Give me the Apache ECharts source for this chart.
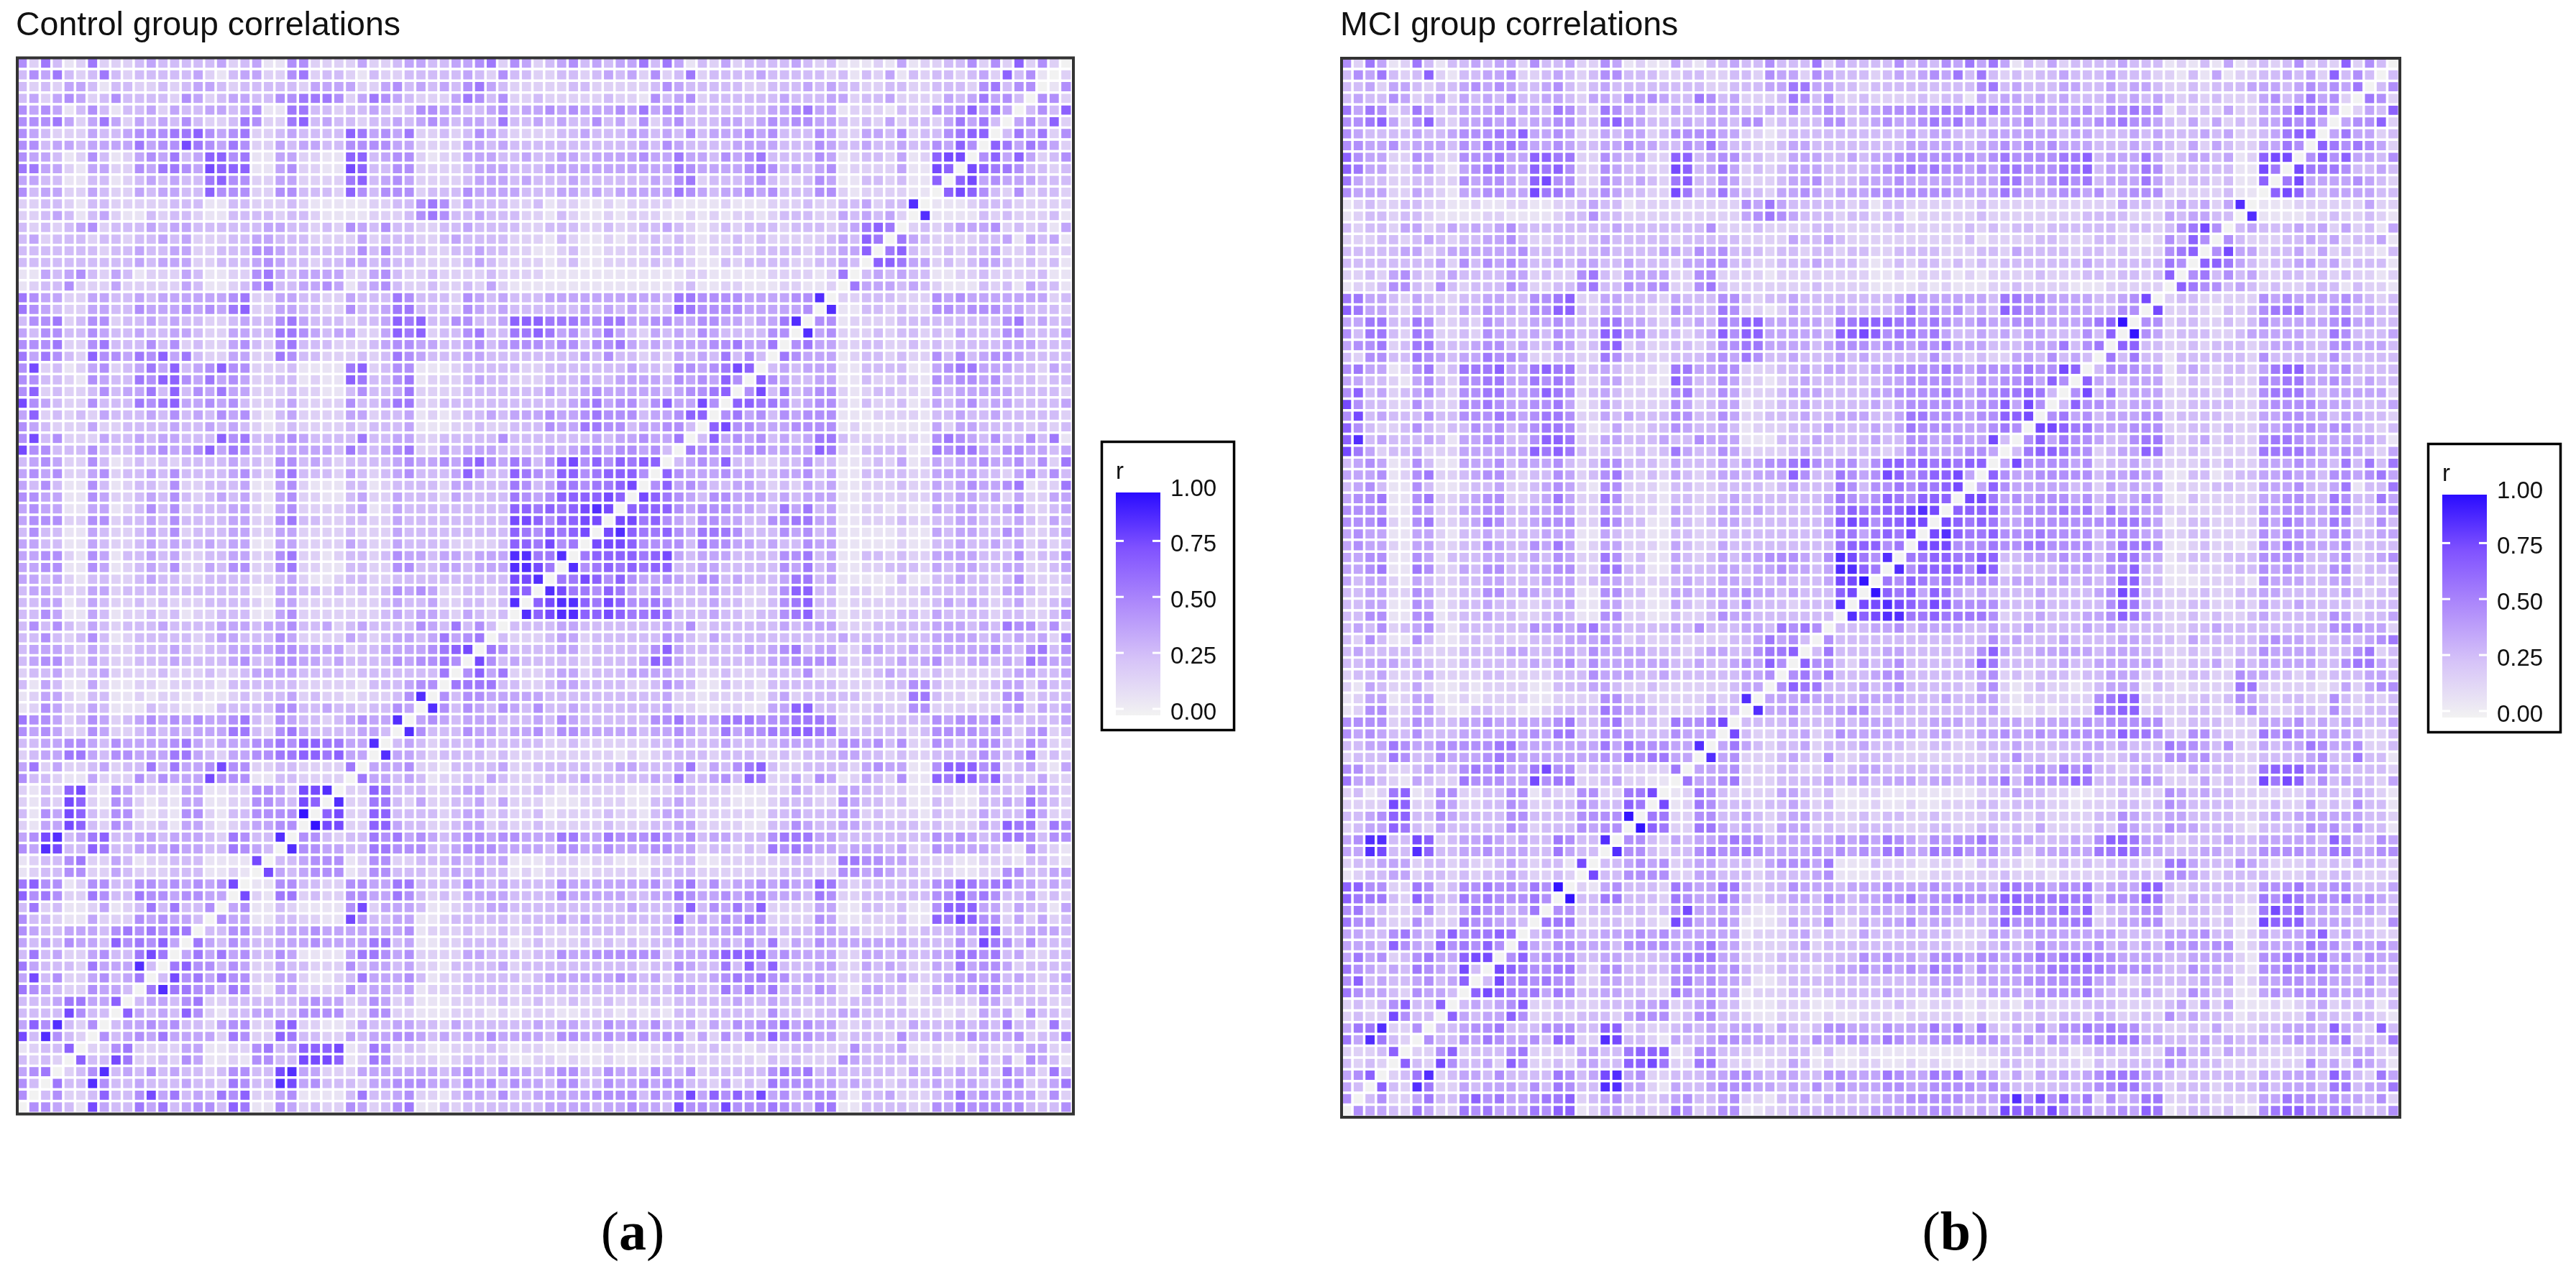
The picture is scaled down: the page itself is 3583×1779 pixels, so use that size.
<!DOCTYPE html>
<html><head><meta charset="utf-8">
<style>html,body{margin:0;padding:0;background:#fff}#c{width:3583px;height:1779px}</style>
<script src="https://cdn.jsdelivr.net/npm/echarts@6/dist/echarts.min.js"></script>
</head><body><div id="c"></div>
<script>
// Each row holds tenths of r (x = 0.97) for the cells left of the anti-diagonal; the matrix is symmetric.
const controlRows = [
"52631 26222 34333 33423 41155 22224 22344 33445 62542 34534 34463 64132 42333 34323 11121 41223 35252 7252",
"35463 23632 33333 42134 42256 23321 32233 33343 25332 23323 43425 23623 33343 33332 31324 13233 23427 351",
"32324 43133 22323 44323 33332 44442 24534 34356 43222 22332 22223 54333 33223 33434 33223 32233 32563 55",
"34245 42353 33325 42344 33556 66524 65432 22465 35223 22222 32215 34523 33333 43334 42334 22224 34645 3",
"54541 35313 34243 34434 51166 33233 43235 54433 45344 54544 45464 55333 33334 45644 12221 32254 57464",
"55564 24642 43435 32236 52267 34332 33434 54344 36334 34335 34252 45333 44345 45544 32324 23324 6463",
"54322 24334 55566 75456 22343 33376 45462 23235 43222 23343 33443 43534 44545 33354 22443 52335 677",
"55344 34444 64558 65465 22434 43355 55442 22244 34333 33333 33343 54333 34444 33354 33433 43354 75",
"54431 25312 45463 47756 11442 21177 34552 12244 43343 34434 44454 46443 54563 33354 12332 41278 8",
"66442 14422 54665 48777 11452 21187 33552 22234 44333 44444 44444 46544 44565 34345 12222 41187",
"44331 13312 34343 36755 22442 22267 34542 22234 44343 33433 33334 35623 33453 22354 11332 3117",
"53442 24322 43443 37555 22553 33275 35552 33354 44433 34434 34444 46543 44545 33355 21222 211",
"22332 13322 22233 31133 22232 11111 22335 65243 33223 12211 21222 21111 21112 22322 33423 39",
"22343 13421 13233 21133 33233 21111 22235 65334 33322 13211 21222 11212 12212 33322 43434 2",
"32323 45233 34344 33333 34433 23254 35332 23343 33322 33322 32233 43212 32333 23332 34676",
"34233 32332 33434 22233 44333 22224 23332 23433 33222 13211 21223 23212 23232 22223 4376",
"33333 33233 43344 22333 55433 33335 35333 22334 33221 12311 22223 33212 23233 33233 447",
"33333 33333 43444 22333 45433 23344 34332 22234 32222 12311 22223 23211 32333 32233 43",
"11434 53243 12224 31122 56434 44422 45322 32222 32222 11111 11111 11221 11112 22212 6",
"12335 22242 22224 31123 56334 45413 45322 32232 42111 11111 11111 12311 22111 22112",
"65442 24433 43444 44456 22443 32243 33653 33254 34333 44444 44444 36655 55444 4559",
"65432 24433 54445 45467 22443 32253 34663 33254 34333 33343 43433 37655 55444 445",
"35562 35523 34343 32234 33564 33323 34767 33553 34777 66655 66445 54455 44344 69",
"43553 35433 43344 32244 33665 43442 24767 23356 33667 64534 64324 34354 33335 5",
"55562 25633 35352 32245 32563 33222 34554 43345 34555 45535 56434 34445 56446",
"64653 27554 65746 32244 22653 32223 23654 33344 33333 33343 53323 24343 6353",
"58231 24523 46473 45755 22231 11167 23551 11233 33322 33333 33433 25545 687",
"55332 15433 65775 46454 22331 21176 33561 22234 33222 33343 34444 35454 75",
"57232 23534 46373 54644 22232 21135 33462 22233 33333 43345 44444 34556 7",
"85432 25333 65674 45453 22342 22253 34662 23333 33333 33456 45535 74485",
"47232 32433 34353 43545 21342 22244 23341 21233 43444 54456 55534 4577",
"54322 24223 33343 34343 21232 22232 33341 11223 22333 54466 55344 553",
"58352 22433 43443 33756 33454 33336 33442 23333 35333 33334 34454 46",
"85533 35333 44544 57465 33444 44364 34562 24344 43333 43455 45545 3",
"34542 25312 32323 33343 32553 43233 33454 45467 54653 57857 57677",
"45452 24523 34353 33345 32563 33243 23453 33475 33765 47756 7775",
"43531 15312 33252 23334 11452 11133 12333 32443 33653 46656 678",
"55441 15422 34353 23434 21452 21134 22433 32433 33654 57777 87",
"45441 14412 35352 33344 21452 22234 12433 33333 33776 76789 8",
"45552 25523 34353 33344 22563 32233 22433 33333 33887 57788",
"35331 14322 34352 33344 22442 22232 22433 33333 33765 7678",
"44331 14322 34343 34344 11442 22243 22433 33222 23776 856",
"44552 15413 34342 23344 22562 21233 23544 34434 44996 69",
"44551 15412 34352 24355 22562 21133 22553 34434 44998 6",
"44342 13322 34332 23333 22342 11233 22333 33333 33889",
"34432 24423 33333 33333 11443 32323 23545 42233 2377",
"33441 24322 32322 23333 21442 22222 23433 42233 239",
"33541 14312 23231 22333 11452 22222 23434 43243 23",
"35353 24323 33433 33444 34453 34234 33335 43635 3",
"33532 35312 33333 23443 33542 22243 23443 46456",
"34443 24322 33343 23344 44554 44423 34444 5678",
"34553 24322 33343 33345 33554 43433 33545 565",
"23342 23422 22322 23223 44443 33323 33333 36",
"31431 14211 22122 22133 33332 22221 33345 5",
"12442 13311 21221 21123 23342 32212 22359",
"12542 24311 13221 11333 33553 34332 3354",
"65542 35423 45454 54456 32543 32345 449",
"54542 25422 34343 44466 32564 33334 43",
"33445 54354 44456 43444 55657 76644 9",
"23446 64355 44466 43244 55667 76744",
"46242 23423 36364 45855 22332 2226",
"53321 14222 53544 48555 11332 222",
"21327 82154 22214 41122 55428 89",
"21328 72154 21214 41122 55438 7",
"31548 73255 21215 52133 5555x",
"21448 73254 22314 42123 4455",
"45893 46733 44344 43265 339",
"54983 37633 44454 43365 43",
"12335 62243 12233 31111 8",
"12335 52243 22233 31121",
"67551 25533 55454 5458",
"75652 26533 65545 544",
"36231 12412 36363 35",
"53321 14222 54544 3",
"54334 44356 56566",
"43435 44375 6574",
"36342 24533 686",
"64333 26444 93",
"48352 24534 6",
"65432 25443",
"33346 6447",
"33338 533",
"47593 25",
"83953 2",
"12337",
"3232",
"456",
"53",
"5"
];
const mciRows = [
"52641 26313 34344 25334 22541 21142 13343 35333 62433 33534 35464 64132 42333 34333 12131 41232 35232 7253",
"35463 23721 33445 22343 23553 33223 32233 25442 54333 23434 54636 32323 34333 43332 21314 12233 43427 353",
"33424 43233 45454 33453 23433 33333 32233 34466 44332 33333 33335 63433 34433 43443 22323 33444 34545 46",
"34335 42342 43435 33443 24435 45433 65342 22365 35223 22223 23314 34434 34333 43434 32323 22245 34645 2",
"64652 36423 44453 44365 32653 42243 34443 34353 45434 45555 56565 65454 44453 55655 13232 42244 57564",
"55674 25732 44545 34455 33675 43334 34435 52333 35533 45445 65645 34453 44545 56554 32424 23244 6564",
"54333 34334 55565 74454 22434 42355 55442 21233 33333 33343 44333 44444 43443 33434 33343 42234 677",
"55445 34443 54656 54454 33445 44335 46433 22344 33333 33344 44434 45454 54443 33434 32424 32244 65",
"75442 25422 55564 47766 22543 42277 34553 32244 43343 44555 55554 56555 56673 44464 23443 41278 8",
"76442 24421 45664 47675 22543 32287 34642 32344 43333 45565 65545 46655 56673 44465 23333 31186",
"64332 23322 54554 37855 22543 43267 33542 22344 53334 44544 44444 46644 56563 44464 32332 3117",
"54442 24321 44554 48665 33543 32286 34643 32445 43444 55555 55444 46544 45545 34555 22222 311",
"12322 33221 12112 21122 34331 22222 22225 46433 33323 13322 22223 22222 22222 24332 34342 49",
"12332 33211 11221 11123 35332 22222 22224 56543 33233 23312 22223 22222 22233 33222 43443 3",
"32332 44234 34345 33333 33343 33333 35222 32222 33222 22322 22232 32332 33333 32332 35685",
"22233 23432 33445 32233 23433 33323 33332 22243 34322 22222 22231 22223 32223 32212 5375",
"33333 44234 44444 53333 33433 33443 54533 32332 33233 22333 32223 32433 33233 23222 567",
"33333 33342 53545 43343 44334 33324 45533 22333 43332 12323 32323 23333 33343 33333 65",
"22324 53234 33334 42322 56324 44422 55222 21222 22222 11212 22121 22223 22233 23323 7",
"12235 53253 23335 42233 56335 45522 56322 22222 32222 11112 12111 22322 22111 22222",
"66443 24322 33443 35567 22443 33243 33553 23343 33333 33454 44444 36655 44443 3458",
"76443 24332 43544 35577 32443 32254 33652 21243 33433 33464 54534 37655 44443 355",
"44663 36522 32543 34454 33664 43243 43657 74444 43667 77665 65445 44554 44456 7x",
"53663 26522 32544 34354 33775 53332 34757 74444 43778 75665 64334 34344 33353 7",
"45562 36633 34553 43354 23672 32233 23556 64444 34555 45545 56444 33344 46356",
"32553 36543 44655 42233 22653 32233 34546 53343 33434 33333 53323 22443 5343",
"56441 25623 66674 46766 23432 22166 44552 22334 34433 44555 56545 55565 587",
"44332 14532 55664 46565 22442 21175 33542 21234 33333 34455 55435 45564 75",
"57342 34532 55664 45765 23432 22256 33542 22344 43333 44555 56545 56676",
"85332 25322 55654 45564 12432 22254 23441 22334 33333 43455 55545 57485",
"58343 33533 55565 45665 22434 33355 33542 23334 33444 33466 55545 5778",
"75322 35323 35453 45665 21242 23354 33431 22233 34333 43465 55444 565",
"79343 33431 44553 35776 22443 33433 54441 11333 43333 43355 44544 83",
"86423 34222 44444 47676 32332 32364 33542 22234 33233 32355 44455 4",
"34541 25311 44453 44453 23553 33243 33434 45567 54553 57767 67677",
"44451 25622 34553 23354 23563 23243 23443 44475 33654 58756 7784",
"34531 15311 23342 23454 21552 22133 22333 32343 33653 55656 678",
"45561 15622 34552 23464 22652 22133 22343 33333 34654 57657 77",
"55551 15422 44553 34454 22543 22143 23443 43333 34676 67789 8",
"55562 15622 34653 34555 22653 31143 23443 33333 34787 57788",
"45441 14421 33433 33444 11432 21133 22333 33333 34664 6768",
"45442 14422 33543 35464 12442 22143 22433 33333 33677 756",
"44551 15413 33443 34354 22652 31143 23434 45554 35986 59",
"44561 16522 43553 34455 22663 31143 33443 44544 34997 6",
"43442 14322 33443 33444 23443 22234 33443 43433 3488x",
"33442 25422 33553 44344 11553 31244 34445 44343 3378",
"33441 15412 33433 22334 11442 21143 23435 33323 339",
"33551 15512 33433 22343 11552 21132 23544 33333 33",
"34352 34521 33333 35454 56443 33343 53334 43656 5",
"32531 15311 23232 23334 44542 32232 22233 46453",
"34333 33222 33334 43344 35444 43332 34433 5667",
"33444 34322 33333 34345 35444 44433 43345 475",
"23342 23422 22332 22233 35444 33433 33334 45",
"21432 24211 21222 21133 34432 23222 22234 4",
"12441 24411 21222 21122 22553 32222 23239",
"12552 24421 13322 11233 33654 43222 2433",
"55552 35433 44544 44456 33563 33265 568",
"54543 35333 44444 45466 33554 33354 44",
"33446 54455 55566 44444 44646 55544 9",
"23336 53354 44565 44444 44546 56644",
"55332 23433 56564 46855 23332 2226",
"64432 14322 65554 48566 22342 211",
"23126 71255 22335 51322 55226 68",
"22228 72254 22335 42233 54337 6",
"33457 73354 33335 53333 5555x",
"23447 63243 33335 42333 5455",
"45993 38723 44543 43365 339",
"44983 39733 44544 43364 33",
"23344 42332 32234 32331 8",
"12334 42332 32334 32232",
"77552 26523 55655 465x",
"76663 27533 65655 565",
"56332 23522 46553 46",
"65532 25322 65544 3",
"44335 64357 56676",
"44437 54375 6575",
"46452 35644 788",
"65434 36543 83",
"57343 34534 7",
"65443 25443",
"23235 7337",
"23228 533",
"46692 25",
"64963 2",
"22237",
"3232",
"457",
"43",
"5"
];
const titles = ["Control group correlations", "MCI group correlations"];
const captions = ["a", "b"];
const legendName = "r";
const legendValues = [0, 0.25, 0.5, 0.75];
const legendLabels = ["0.00", "0.25", "0.50", "0.75", "1.00"];
const rampColors = ["#f2f2f2", "#d6c3f8", "#ae8afb", "#8052ff", "#2a0cff"];

const N = 90;
const cells = Array.from({length: N}, (_, i) => String(i + 1));
function build(rows) {
  const clean = rows.map(s => s.replace(/ /g, ""));
  clean.forEach((s, r) => { if (s.length !== N - 1 - r) console.warn("row", r, s.length); });
  const read = (r, c) => {
    const ch = (clean[r] || "")[c];
    if (ch === undefined) return 0.3;
    return ch === "x" ? 0.97 : Number(ch) / 10 - 0.02;
  };
  const out = [];
  for (let r = 0; r < N; r++) for (let c = 0; c < N; c++) {
    const s = r + c;
    const v = s === N - 1 ? 0 : (s < N - 1 ? read(r, c) : read(N - 1 - c, N - 1 - r));
    out.push([c, r, v]);
  }
  return out;
}
const panels = [
  {left: 23, top: 80, w: 1468, h: 1468, rows: controlRows, titleX: 22, frame: [24, 80.5, 1469, 1469], capX: 880, legX: 0, legY: 0},
  {left: 1865, top: 80, w: 1472, h: 1473, rows: mciRows, titleX: 1864, frame: [1866, 81, 1472, 1473], capX: 2720, legX: 1845, legY: 3}
];
const FONT = '"Liberation Sans", Arial, sans-serif';
const graphics = [];
panels.forEach((p, i) => {
  graphics.push({type: "text", z: 20, x: p.titleX, y: 60, style: {text: titles[i], font: '46.5px ' + FONT, fill: "#111", textVerticalAlign: "bottom", verticalAlign: "alphabetic"}});
  graphics.push({type: "rect", z: 20, shape: {x: p.frame[0], y: p.frame[1], width: p.frame[2], height: p.frame[3]}, style: {fill: "none", stroke: "#333", lineWidth: 4}});
  graphics.push({type: "text", z: 20, x: p.capX, y: 1718, style: {
    text: "{n|(}{b|" + captions[i] + "}{n|)}", align: "center", verticalAlign: "middle",
    rich: {n: {font: '76px "Liberation Serif", serif', fill: "#000"}, b: {font: 'bold 76px "Liberation Serif", serif', fill: "#000"}}
  }});
  const dx = p.legX, dy = p.legY;
  graphics.push({type: "rect", z: 20, shape: {x: 1532.5 + dx, y: 614.5 + dy, width: 184, height: 401}, style: {fill: "#fff", stroke: "#000", lineWidth: 3.5}});
  graphics.push({type: "text", z: 21, x: 1552 + dx, y: 657 + dy, style: {text: legendName, font: '33px ' + FONT, fill: "#111", verticalAlign: "middle"}});
  const barX = 1552 + dx, barW = 62, barTop = 685 + dy, barBot = 995 + dy;
  graphics.push({type: "rect", z: 21, shape: {x: barX, y: barTop, width: barW, height: barBot - barTop}, style: {
    fill: new echarts.graphic.LinearGradient(0, 1, 0, 0, rampColors.map((c, k) => ({offset: k / (rampColors.length - 1), color: c})))
  }});
  const y0 = 986 + dy, unit = 311.5;
  legendValues.forEach(v => {
    const y = y0 - v * unit;
    graphics.push({type: "rect", z: 22, shape: {x: barX, y: y - 1.5, width: 11, height: 3}, style: {fill: "#fff"}});
    graphics.push({type: "rect", z: 22, shape: {x: barX + barW - 11, y: y - 1.5, width: 11, height: 3}, style: {fill: "#fff"}});
  });
  legendLabels.forEach((t, k) => {
    graphics.push({type: "text", z: 22, x: 1628 + dx, y: y0 + 6 - (k / 4) * unit, style: {text: t, font: '33px ' + FONT, fill: "#111", verticalAlign: "middle"}});
  });
});

const chart = echarts.init(document.getElementById("c"), null, {renderer: "canvas"});
chart.setOption({
  animation: false,
  backgroundColor: "#fff",
  grid: panels.map(p => ({left: p.left, top: p.top, width: p.w, height: p.h, containLabel: false})),
  xAxis: panels.map((p, i) => ({type: "category", gridIndex: i, data: cells, show: false})),
  yAxis: panels.map((p, i) => ({type: "category", gridIndex: i, data: cells, inverse: true, show: false})),
  visualMap: {show: false, type: "continuous", min: 0, max: 1, seriesIndex: [0, 1], inRange: {color: rampColors}},
  series: panels.map((p, i) => ({
    type: "heatmap", xAxisIndex: i, yAxisIndex: i, data: build(p.rows),
    progressive: 0, animation: false, silent: true,
    itemStyle: {borderColor: "#fff", borderWidth: 3.5},
    emphasis: {disabled: true}
  })),
  graphic: graphics
});
</script></body></html>
